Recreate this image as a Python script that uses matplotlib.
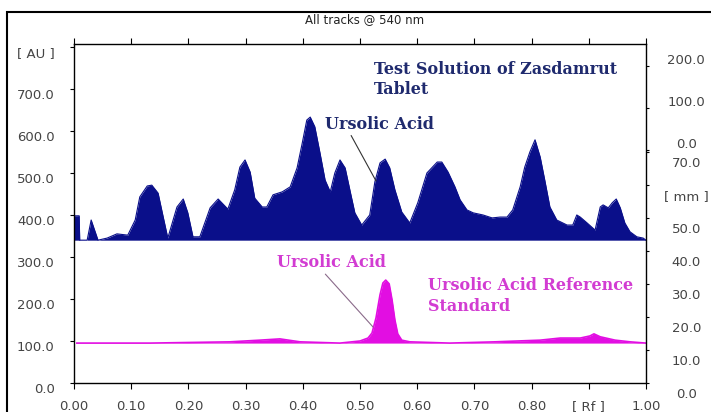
import matplotlib
matplotlib.use("Agg")
import matplotlib.pyplot as plt
from matplotlib.patches import Rectangle

# test solution track (Rf, AU)
test_rf = [0.000, 0.000, 0.009, 0.010, 0.023, 0.030, 0.042, 0.058, 0.075, 0.094,
           0.107, 0.115, 0.128, 0.136, 0.147, 0.156, 0.164, 0.180, 0.191, 0.199,
           0.208, 0.220, 0.238, 0.252, 0.269, 0.281, 0.290, 0.299, 0.308, 0.316,
           0.329, 0.337, 0.348, 0.364, 0.378, 0.390, 0.399, 0.407, 0.413, 0.421,
           0.430, 0.439, 0.448, 0.456, 0.465, 0.474, 0.483, 0.491, 0.503, 0.517,
           0.526, 0.535, 0.544, 0.552, 0.561, 0.573, 0.587, 0.601, 0.617, 0.635,
           0.643, 0.654, 0.666, 0.675, 0.687, 0.698, 0.715, 0.731, 0.745, 0.757,
           0.767, 0.780, 0.788, 0.797, 0.806, 0.815, 0.823, 0.832, 0.844, 0.862,
           0.872, 0.879, 0.885, 0.897, 0.911, 0.920, 0.925, 0.934, 0.941, 0.948,
           0.955, 0.963, 0.972, 0.984, 0.995, 1.000]
test_au = [340, 398, 398, 340, 340, 388, 340, 345, 355, 352,
           388, 443, 469, 471, 452, 395, 345, 419, 438, 405,
           348, 348, 417, 438, 414, 460, 514, 531, 502, 440,
           419, 419, 448, 455, 467, 512, 571, 626, 633, 610,
           548, 483, 455, 500, 531, 512, 455, 405, 376, 400,
           479, 524, 533, 512, 460, 407, 381, 429, 500, 526,
           526, 502, 467, 436, 412, 405, 400, 393, 395, 395,
           412, 467, 514, 550, 579, 538, 483, 419, 388, 376,
           376, 400, 395, 381, 364, 419, 424, 417, 429, 438,
           417, 381, 360, 348, 345, 340]
test_base = 340

# reference standard track (Rf, AU)
ref_rf = [0.005, 0.133, 0.273, 0.325, 0.360, 0.395, 0.465, 0.500, 0.514, 0.521,
          0.528, 0.535, 0.540, 0.545, 0.551, 0.556, 0.561, 0.566, 0.573, 0.587,
          0.657, 0.736, 0.815, 0.850, 0.885, 0.902, 0.909, 0.920, 0.946, 0.972, 1.000]
ref_au = [95, 95, 98, 102, 105, 98, 95, 100, 107, 119,
          155, 210, 238, 245, 236, 198, 150, 117, 102, 98,
          95, 98, 102, 107, 107, 112, 117, 110, 102, 98, 95]
ref_base = 95

x_ticks = [0.0, 0.1, 0.2, 0.3, 0.4, 0.5, 0.6, 0.7, 0.8, 0.9, 1.0]
x_labels = ['0.00', '0.10', '0.20', '0.30', '0.40', '0.50', '0.60', '0.70', '0.80', '[ Rf ]', '1.00']
au_ticks = [0, 100, 200, 300, 400, 500, 600, 700, 800]
au_labels = ['0.0', '100.0', '200.0', '300.0', '400.0', '500.0', '600.0', '700.0', '[ AU ]']
mm_ticks = [0, 10, 20, 30, 40, 50, 60, 70]
mm_labels = ['0.0', '10.0', '20.0', '30.0', '40.0', '50.0', '[ mm ]', '70.0']
upper_ticks = [0, 100, 200]
upper_labels = ['0.0', '100.0', '200.0']

navy = '#0a0f8a'
navy_txt = '#1f2a6e'
mag = '#e20ee2'
mag_txt = '#d23cd2'
grey = '#444444'

W, H = 711, 412
fig = plt.figure(figsize=(W / 100, H / 100), dpi=100)
ax = fig.add_axes([74 / W, (H - 383) / H, (646 - 74) / W, (383 - 44) / H])

ax.fill_between(test_rf, test_base, test_au, color=navy, lw=0)
ax.plot(test_rf, test_au, color=navy, lw=0.8)
ax.fill_between(ref_rf, ref_base, ref_au, color=mag, lw=0)
ax.plot(ref_rf, ref_au, color=mag, lw=1.2)

ax.set_xlim(0, 1)
ax.set_ylim(0, 807)

for s in ax.spines.values():
    s.set_color('black')
    s.set_linewidth(1.0)

ax.set_xticks(x_ticks)
ax.set_xticklabels(x_labels, color=grey, fontsize=9.5)
ax.tick_params(axis='x', which='both', direction='out', length=4, pad=8,
               top=True, labeltop=False)

ax.set_yticks(au_ticks)
ax.set_yticklabels([])
ax.tick_params(axis='y', direction='out', length=3)
for v, lab in zip(au_ticks, au_labels):
    ax.annotate(lab, xy=(0, v), xycoords=('axes fraction', 'data'),
                xytext=(-14, -4.5), textcoords='offset points',
                ha='right', va='center', fontsize=9.5, color=grey)

# right hand scales
ax2 = ax.twinx()
mm_top = 339 / 3.3
ax2.set_ylim(0, mm_top)
upper_zero = 70.6
upper_step = 12.7 / 100
upper_pos = [upper_zero + v * upper_step for v in upper_ticks]
ax2.set_yticks(mm_ticks + upper_pos)
ax2.set_yticklabels([])
ax2.tick_params(axis='y', direction='out', length=2.5)
for v, lab in zip(mm_ticks, mm_labels):
    ax2.annotate(lab, xy=(1, v), xycoords=('axes fraction', 'data'),
                 xytext=(29, -8), textcoords='offset points',
                 ha='center', va='center', fontsize=9.5, color=grey)
for v, lab in zip(upper_pos, upper_labels):
    ax2.annotate(lab, xy=(1, v), xycoords=('axes fraction', 'data'),
                 xytext=(29, 4), textcoords='offset points',
                 ha='center', va='center', fontsize=9.5, color=grey)
for s in ax2.spines.values():
    s.set_visible(False)

fig.text(365 / W, 1 - 20 / H, 'All tracks @ 540 nm', ha='center', va='center',
         fontsize=8.5, color='#222222')

serif = dict(family='DejaVu Serif', weight='bold', fontsize=11.5)
ax.text(0.524, 722, 'Test Solution of Zasdamrut\nTablet', color=navy_txt,
        ha='left', va='center', linespacing=1.25, **serif)
ax.annotate('Ursolic Acid', xy=(0.528, 481), xytext=(0.438, 616),
            color=navy_txt, ha='left', va='center', **serif,
            arrowprops=dict(arrowstyle='-', color='#333333', lw=0.8,
                            shrinkA=0, shrinkB=0, relpos=(0.23, 0)))
ax.annotate('Ursolic Acid', xy=(0.523, 133), xytext=(0.355, 286),
            color=mag_txt, ha='left', va='center', **serif,
            arrowprops=dict(arrowstyle='-', color='#8a6a8a', lw=0.8,
                            shrinkA=0, shrinkB=0, relpos=(0.42, 0)))
ax.text(0.619, 207, 'Ursolic Acid Reference\nStandard', color=mag_txt,
        ha='left', va='center', linespacing=1.25, **serif)

fig.add_artist(Rectangle((7 / W, -0.05), 1.1, 1 - 12 / H + 0.05, transform=fig.transFigure,
                         fill=False, ec='black', lw=1.5, clip_on=False))

fig.savefig('out.png', dpi=100)
